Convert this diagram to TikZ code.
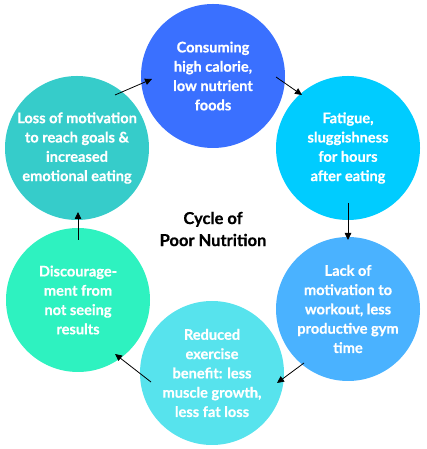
\documentclass[tikz,border=0pt]{standalone}
\usepackage{fontspec}
\setmainfont{Lato}[BoldFeatures={FakeBold=0.6}]
\usetikzlibrary{calc,arrows.meta}
\definecolor{cTop}{RGB}{58,112,255}
\definecolor{cTR}{RGB}{0,204,255}
\definecolor{cBR}{RGB}{74,178,255}
\definecolor{cB}{RGB}{87,227,237}
\definecolor{cBL}{RGB}{46,242,192}
\definecolor{cTL}{RGB}{54,204,202}
\tikzset{
  bubble/.style={circle, minimum size=144pt, inner sep=0pt, text=white,
    font=\fontsize{14.6}{19.3}\selectfont\bfseries, align=center},
  arr/.style={-{Triangle[length=7pt,width=6.5pt]}, line width=0.8pt, black},
}
\begin{document}
\begin{tikzpicture}[x=1pt,y=1pt]
\useasboundingbox (0,0) rectangle (427,449);
\node[bubble, fill=cTop] (top) at (213,373) {Consuming\\high calorie,\\low nutrient\\foods};
\node[bubble, fill=cTR] (tr) at (348,301) {Fatigue,\\sluggishness\\for hours\\after eating};
\node[bubble, fill=cBR] (br) at (348,140) {Lack of\\motivation to\\workout, less\\productive gym\\time};
\node[bubble, fill=cB] (bot) at (212,76) {Reduced\\exercise\\benefit: less\\muscle growth,\\less fat loss};
\node[bubble, fill=cBL] (bl) at (78,149) {Discourage-\\ment from\\not seeing\\results};
\node[bubble, fill=cTL] (tl) at (77,301) {Loss of motivation\\to reach goals \&\\increased\\emotional eating};
\node[align=center, font=\fontsize{16.5}{22}\selectfont\bfseries] (title) at (213,220) {Cycle of\\Poor Nutrition};
\coordinate (a1s) at ($(tl)+(38,53)$);
\coordinate (a1e) at ($(top)+(-61,-3)$);
\coordinate (a2s) at ($(top)+(63,-1)$);
\coordinate (a2e) at ($(tr)+(-46,53)$);
\coordinate (a3s) at ($(tr)+(0,-55)$);
\coordinate (a3e) at ($(br)+(0,69)$);
\coordinate (a4s) at ($(br)+(-44,-54)$);
\coordinate (a4e) at ($(bot)+(65,-10)$);
\coordinate (a5s) at ($(bot)+(-61,-9)$);
\coordinate (a5e) at ($(bl)+(37,-54)$);
\coordinate (a6s) at ($(bl)+(0,60)$);
\coordinate (a6e) at ($(tl)+(1,-64)$);
\draw[arr] (a1s) -- (a1e);
\draw[arr] (a2s) -- (a2e);
\draw[arr] (a3s) -- (a3e);
\draw[arr] (a4s) -- (a4e);
\draw[arr] (a5s) -- (a5e);
\draw[arr] (a6s) -- (a6e);
\end{tikzpicture}
\end{document}
